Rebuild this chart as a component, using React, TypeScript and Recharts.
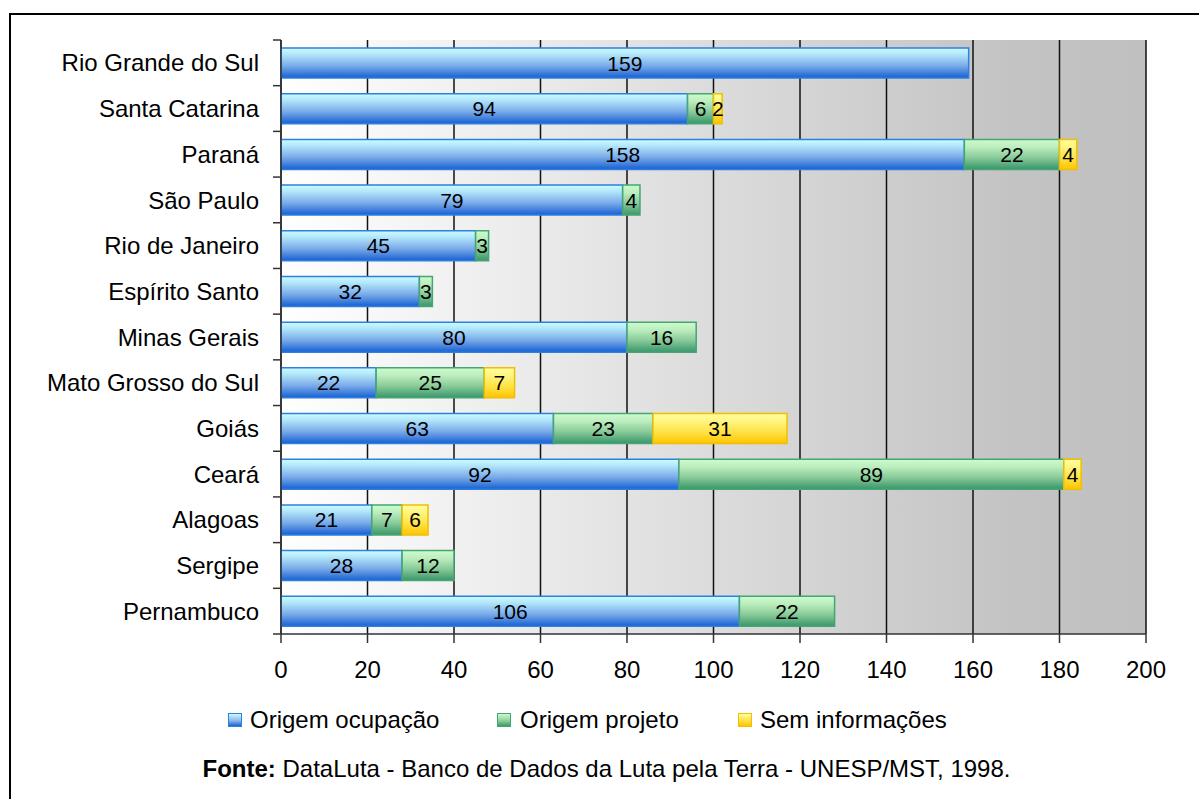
import React from 'react';
import { BarChart, Bar, XAxis, YAxis, CartesianGrid, LabelList, Legend } from 'recharts';

const states = [
  'Rio Grande do Sul',
  'Santa Catarina',
  'Paraná',
  'São Paulo',
  'Rio de Janeiro',
  'Espírito Santo',
  'Minas Gerais',
  'Mato Grosso do Sul',
  'Goiás',
  'Ceará',
  'Alagoas',
  'Sergipe',
  'Pernambuco',
];
const ocupacao = [159, 94, 158, 79, 45, 32, 80, 22, 63, 92, 21, 28, 106];
const projeto = [null, 6, 22, 4, 3, 3, 16, 25, 23, 89, 7, 12, 22];
const semInfo = [null, 2, 4, null, null, null, null, 7, 31, 4, 6, null, null];
const xTicks = [0, 20, 40, 60, 80, 100, 120, 140, 160, 180, 200];
const seriesNames = ['Origem ocupação', 'Origem projeto', 'Sem informações'];
const sourceBold = 'Fonte:';
const sourceText = ' DataLuta - Banco de Dados da Luta pela Terra - UNESP/MST, 1998.';

const data = states.map((s, i) => ({
  state: s,
  ocupacao: ocupacao[i],
  projeto: projeto[i],
  sem: semInfo[i],
}));

const FONT = '"Liberation Sans", Arial, sans-serif';
const PLOT_TOP = 40;
const PLOT_BOTTOM = 634;
const BAND = (PLOT_BOTTOM - PLOT_TOP) / states.length;

const YTick = (props: any) => {
  const { x, y, payload, index } = props;
  const axisX = x + 22;
  return (
    <g>
      <line x1={axisX - 8} x2={axisX} y1={y - BAND / 2} y2={y - BAND / 2} stroke="#333" strokeWidth={1.5} />
      {index === states.length - 1 && (
        <line x1={axisX - 8} x2={axisX} y1={y + BAND / 2} y2={y + BAND / 2} stroke="#333" strokeWidth={1.5} />
      )}
      <text x={x} y={y} dy="0.36em" textAnchor="end" fontSize={24} fill="#000" fontFamily={FONT}>
        {payload.value}
      </text>
    </g>
  );
};

const renderLabel = (props: any) => {
  const { x, y, width, height, value } = props;
  if (value === null || value === undefined) return null;
  return (
    <text
      x={x + width / 2}
      y={y + height / 2}
      dy="0.36em"
      textAnchor="middle"
      fontSize={21}
      fill="#000"
      fontFamily={FONT}
    >
      {value}
    </text>
  );
};

const legendSwatches = [
  { name: seriesNames[0], bg: 'linear-gradient(#c8fbff, #8ab8ee 55%, #1a62d2)', border: '#2f7fe0', sq: 228, tx: 250 },
  { name: seriesNames[1], bg: 'linear-gradient(#ccf9cc, #8fcf9f 55%, #3a9a66)', border: '#45a673', sq: 497, tx: 520 },
  { name: seriesNames[2], bg: 'linear-gradient(#ffff9a, #ffe04a 55%, #ffc400)', border: '#f0c000', sq: 738, tx: 760 },
];

const renderLegend = () => (
  <div style={{ position: 'relative', width: 1199, height: 30, fontFamily: FONT }}>
    {legendSwatches.map((s) => (
      <React.Fragment key={s.name}>
        <div
          style={{
            position: 'absolute',
            left: s.sq,
            top: 8,
            width: 12,
            height: 12,
            background: s.bg,
            border: `1px solid ${s.border}`,
          }}
        />
        <div
          style={{
            position: 'absolute',
            left: s.tx,
            top: 0,
            fontSize: 24,
            lineHeight: '30px',
            color: '#000',
            whiteSpace: 'nowrap',
          }}
        >
          {s.name}
        </div>
      </React.Fragment>
    ))}
  </div>
);

export default function App() {
  return (
    <div
      style={{
        position: 'absolute',
        left: 0,
        top: 0,
        width: 1199,
        height: 799,
        background: '#fff',
        overflow: 'hidden',
        fontFamily: FONT,
      }}
    >
      <div
        style={{
          position: 'absolute',
          left: 9,
          top: 13,
          width: 1300,
          height: 900,
          borderLeft: '2px solid #000',
          borderTop: '2px solid #000',
        }}
      />
      <div style={{ position: 'absolute', left: 0, top: 0 }}>
        <BarChart
          width={1199}
          height={799}
          data={data}
          layout="vertical"
          margin={{ top: PLOT_TOP, right: 53, left: 0, bottom: 75 }}
          barSize={30}
        >
          <defs>
            <linearGradient id="bgGrad" x1="0" y1="0" x2="1" y2="0">
              <stop offset="0%" stopColor="#ffffff" />
              <stop offset="85%" stopColor="#c3c3c3" />
              <stop offset="100%" stopColor="#c0c0c0" />
            </linearGradient>
            <linearGradient id="blueGrad" x1="0" y1="0" x2="0" y2="1">
              <stop offset="0%" stopColor="#cbfdff" />
              <stop offset="20%" stopColor="#b4e8fb" />
              <stop offset="60%" stopColor="#7aaae8" />
              <stop offset="100%" stopColor="#1560d3" />
            </linearGradient>
            <linearGradient id="greenGrad" x1="0" y1="0" x2="0" y2="1">
              <stop offset="0%" stopColor="#cdfbcd" />
              <stop offset="25%" stopColor="#bdeebf" />
              <stop offset="60%" stopColor="#8acb9a" />
              <stop offset="100%" stopColor="#38966a" />
            </linearGradient>
            <linearGradient id="yellowGrad" x1="0" y1="0" x2="0" y2="1">
              <stop offset="0%" stopColor="#ffffa0" />
              <stop offset="30%" stopColor="#fff27a" />
              <stop offset="65%" stopColor="#ffe040" />
              <stop offset="100%" stopColor="#ffc400" />
            </linearGradient>
          </defs>
          <CartesianGrid horizontal={false} stroke="#111" strokeWidth={1.5} fill="url(#bgGrad)" />
          <XAxis
            type="number"
            domain={[0, 200]}
            ticks={xTicks}
            interval={0}
            tickSize={9}
            tickMargin={18}
            height={60}
            axisLine={{ stroke: '#333', strokeWidth: 1.5 }}
            tickLine={{ stroke: '#333', strokeWidth: 1.5 }}
            tick={{ fontSize: 24, fill: '#000', fontFamily: FONT }}
          />
          <YAxis
            type="category"
            dataKey="state"
            width={281}
            interval={0}
            tickSize={8}
            tickMargin={14}
            tickLine={false}
            axisLine={{ stroke: '#333', strokeWidth: 1.5 }}
            tick={<YTick />}
          />
          <Legend verticalAlign="bottom" content={renderLegend} wrapperStyle={{ left: 0, top: 705, width: 1199 }} />
          <Bar
            dataKey="ocupacao"
            name={seriesNames[0]}
            stackId="a"
            fill="url(#blueGrad)"
            stroke="#2f7fe0"
            strokeWidth={1.5}
            isAnimationActive={false}
          >
            <LabelList dataKey="ocupacao" content={renderLabel} />
          </Bar>
          <Bar
            dataKey="projeto"
            name={seriesNames[1]}
            stackId="a"
            fill="url(#greenGrad)"
            stroke="#45a673"
            strokeWidth={1.5}
            isAnimationActive={false}
          >
            <LabelList dataKey="projeto" content={renderLabel} />
          </Bar>
          <Bar
            dataKey="sem"
            name={seriesNames[2]}
            stackId="a"
            fill="url(#yellowGrad)"
            stroke="#f0c000"
            strokeWidth={1.5}
            isAnimationActive={false}
          >
            <LabelList dataKey="sem" content={renderLabel} />
          </Bar>
        </BarChart>
      </div>
      <div
        style={{
          position: 'absolute',
          left: 0,
          width: 1199,
          top: 754,
          textAlign: 'center',
          paddingLeft: 14,
          fontSize: 24,
          lineHeight: '30px',
          color: '#000',
          whiteSpace: 'nowrap',
          boxSizing: 'border-box',
        }}
      >
        <b>{sourceBold}</b>
        {sourceText}
      </div>
    </div>
  );
}
